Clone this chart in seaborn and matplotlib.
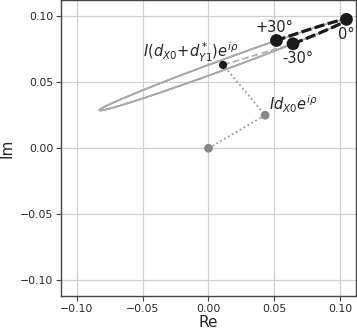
import numpy as np
import pandas as pd
import matplotlib
matplotlib.use("Agg")
import matplotlib.pyplot as plt
import seaborn as sns

# ---- data ----
origin = [0.0, 0.0]
id_x0 = [0.043, 0.025]                 # I d_X0 e^{i rho}
centre = [0.0111, 0.0631]              # I (d_X0 + d*_Y1) e^{i rho}
major_vec = [0.0937, 0.0345]           # half-axis toward the 0 deg point
minor_vec = [-0.00727, 0.00144]        # second half-axis of the ellipse
phase_marks = [30, 0, -30]             # degrees
phase_labels = ["+30°", "0°", "-30°"]
x_ticks = [-0.10, -0.05, 0.00, 0.05, 0.10]
y_ticks = [-0.10, -0.05, 0.00, 0.05, 0.10]

sns.set_theme(style="whitegrid")
plt.rcParams['font.family'] = ['DejaVu Sans']

fig = plt.figure(figsize=(3.57, 3.32), dpi=100)
ax = fig.add_axes([0.171, 0.108, 0.826, 0.891])

c = np.array(centre); a = np.array(major_vec); b = np.array(minor_vec)

def ell(deg):
    t = np.deg2rad(2 * np.asarray(deg, float))
    return c[None, :] + np.cos(t)[:, None] * a[None, :] + np.sin(t)[:, None] * b[None, :]

# solid grey part of the ellipse (outside -30..+30)
phi = np.linspace(30, 330, 400)
p = ell(phi)
sns.lineplot(x=p[:, 0], y=p[:, 1], sort=False, estimator=None, color="#aaaaaa", lw=1.2, ax=ax)

# black dashed arc between -30 and +30
phi2 = np.linspace(-30, 30, 60)
p2 = ell(phi2)
sns.lineplot(x=p2[:, 0], y=p2[:, 1], sort=False, estimator=None, color="#1a1a1a", lw=2.3,
             ax=ax, linestyle=(0, (3.2, 1.1)))

pm = ell(phase_marks)
# grey dashed from centre to -30 deg point
sns.lineplot(x=[centre[0], pm[2, 0]], y=[centre[1], pm[2, 1]], sort=False, estimator=None,
             color="#aaaaaa", lw=1.2, ax=ax, linestyle=(0, (4, 2)))

# dotted construction lines
sns.lineplot(x=[origin[0], id_x0[0], centre[0]], y=[origin[1], id_x0[1], centre[1]],
             sort=False, estimator=None, color="#999999", lw=1.3, ax=ax, linestyle=(0, (1, 1.5)))

sns.scatterplot(x=[origin[0], id_x0[0]], y=[origin[1], id_x0[1]], color="#888888", s=40,
                edgecolor="none", ax=ax, zorder=5)
sns.scatterplot(x=[centre[0]], y=[centre[1]], color="#1a1a1a", s=35, edgecolor="none", ax=ax, zorder=5)
sns.scatterplot(x=pm[:, 0], y=pm[:, 1], color="#1a1a1a", s=85, edgecolor="none", ax=ax, zorder=6)

fs = 10.5
ax.text(0.0358, 0.0917, phase_labels[0], fontsize=fs, va="center", ha="left")
ax.text(0.0985, 0.0864, phase_labels[1], fontsize=fs, va="center", ha="left")
ax.text(0.0563, 0.0676, phase_labels[2], fontsize=fs, va="center", ha="left")
ax.text(-0.0498, 0.0729, r"$I(d_{X0}\!+\!d^*_{Y1})e^{i\rho}$", fontsize=fs, va="center", ha="left")
ax.text(0.0457, 0.0333, r"$Id_{X0}e^{i\rho}$", fontsize=fs, va="center", ha="left")

ax.set_xlim(-0.112, 0.112)
ax.set_ylim(-0.112, 0.112)
ax.set_xticks(x_ticks)
ax.set_yticks(y_ticks)
ax.set_xticklabels([f"{v:.2f}".replace("-", "\u2212") for v in x_ticks])
ax.set_yticklabels([f"{v:.2f}".replace("-", "\u2212") for v in y_ticks])
ax.tick_params(axis="both", labelsize=7.8, length=3.5, width=0.8, color="#444444",
               direction="out", bottom=True, left=True, pad=2)
ax.grid(True, color="#d0d0d0", lw=0.9)
for s in ax.spines.values():
    s.set_visible(True)
    s.set_color("#444444")
    s.set_linewidth(1.0)
ax.set_xlabel("Re", fontsize=11, labelpad=1)
ax.set_ylabel("Im", fontsize=11, labelpad=4)
ax.set_facecolor("white")

fig.savefig("out.png", dpi=100)
